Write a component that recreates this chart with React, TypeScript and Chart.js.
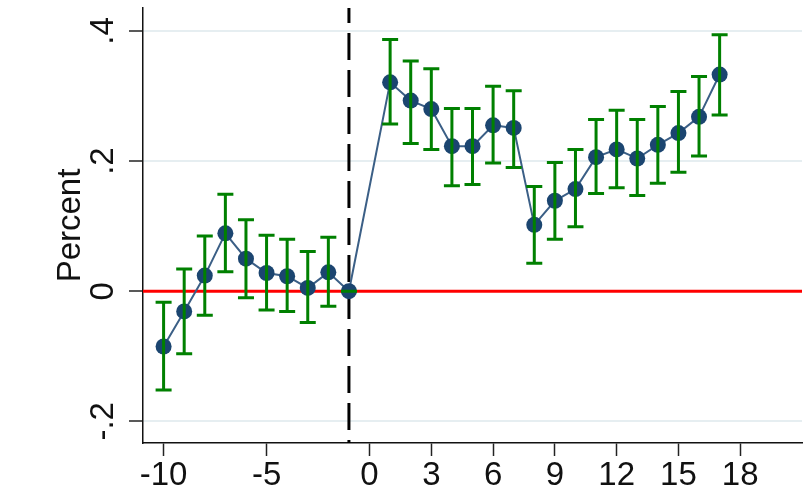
import { useEffect, useRef } from "react";
import { Chart, registerables } from "chart.js";

Chart.register(...registerables);

// Event-time periods (relative to the event, -1 is the reference period)
const periods = [-10, -9, -8, -7, -6, -5, -4, -3, -2, -1, 1, 2, 3, 4, 5, 6, 7, 8, 9, 10, 11, 12, 13, 14, 15, 16, 17];

// Point estimates
const estimates = [
  -0.085, -0.031, 0.024, 0.089, 0.05, 0.028, 0.023, 0.005, 0.029, 0,
  0.321, 0.293, 0.28, 0.223, 0.223, 0.255, 0.251, 0.102, 0.139, 0.157,
  0.206, 0.218, 0.204, 0.225, 0.243, 0.268, 0.333,
];

// Confidence interval bounds
const ciLow = [
  -0.152, -0.096, -0.037, 0.03, -0.01, -0.029, -0.031, -0.048, -0.023, 0,
  0.257, 0.227, 0.218, 0.162, 0.164, 0.197, 0.19, 0.043, 0.08, 0.099,
  0.15, 0.159, 0.147, 0.166, 0.183, 0.208, 0.271,
];
const ciHigh = [
  -0.017, 0.034, 0.085, 0.149, 0.11, 0.086, 0.08, 0.061, 0.083, 0,
  0.387, 0.354, 0.342, 0.281, 0.281, 0.315, 0.308, 0.161, 0.198, 0.218,
  0.264, 0.278, 0.264, 0.284, 0.307, 0.33, 0.394,
];

const xTickValues = [-10, -5, 0, 3, 6, 9, 12, 15, 18];
const yTickValues = [-0.2, 0, 0.2, 0.4];
const yTickLabels = ["-.2", "0", ".2", ".4"];
const eventPeriod = -1;
const yAxisTitle = "Percent";

const FONT = '"Liberation Sans", Arial, Helvetica, sans-serif';
const FONT_SIZE = 33;

const overlays = {
  id: "overlays",
  beforeDatasetsDraw(chart: any) {
    const { ctx, chartArea: a, scales } = chart;
    const x = scales.x;
    const y = scales.y;
    ctx.save();
    // zero reference line
    const y0 = y.getPixelForValue(0);
    ctx.strokeStyle = "#ff0000";
    ctx.lineWidth = 3;
    ctx.beginPath();
    ctx.moveTo(a.left, y0);
    ctx.lineTo(a.right, y0);
    ctx.stroke();
    // dashed event marker
    const xe = x.getPixelForValue(eventPeriod);
    ctx.strokeStyle = "#000000";
    ctx.lineWidth = 3;
    ctx.setLineDash([27, 10]);
    ctx.lineDashOffset = 12;
    ctx.beginPath();
    ctx.moveTo(xe, a.top);
    ctx.lineTo(xe, a.bottom);
    ctx.stroke();
    ctx.restore();
  },
  afterDatasetsDraw(chart: any) {
    const { ctx, scales } = chart;
    const x = scales.x;
    const y = scales.y;
    const half = 8;
    ctx.save();
    ctx.strokeStyle = "#008000";
    ctx.lineWidth = 3;
    ctx.lineCap = "butt";
    periods.forEach((p, i) => {
      const px = x.getPixelForValue(p);
      const lo = y.getPixelForValue(ciLow[i]);
      const hi = y.getPixelForValue(ciHigh[i]);
      ctx.beginPath();
      ctx.moveTo(px, lo);
      ctx.lineTo(px, hi);
      ctx.moveTo(px - half, lo);
      ctx.lineTo(px + half, lo);
      ctx.moveTo(px - half, hi);
      ctx.lineTo(px + half, hi);
      ctx.stroke();
    });
    ctx.restore();
  },
  afterDraw(chart: any) {
    const { ctx, chartArea: a, scales } = chart;
    const y = scales.y;
    ctx.save();
    ctx.fillStyle = "#111111";
    ctx.font = `${FONT_SIZE}px ${FONT}`;
    ctx.textAlign = "center";
    ctx.textBaseline = "alphabetic";
    yTickValues.forEach((v, i) => {
      const py = y.getPixelForValue(v);
      ctx.save();
      ctx.translate(113, py);
      ctx.rotate(-Math.PI / 2);
      ctx.fillText(yTickLabels[i], 0, 0);
      ctx.restore();
    });
    ctx.save();
    ctx.translate(80, (a.top + a.bottom) / 2);
    ctx.rotate(-Math.PI / 2);
    ctx.fillText(yAxisTitle, 0, 0);
    ctx.restore();
    ctx.restore();
  },
};

export default function App() {
  const canvasRef = useRef<HTMLCanvasElement | null>(null);

  useEffect(() => {
    const canvas = canvasRef.current;
    if (!canvas) return;
    const chart = new Chart(canvas, {
      type: "line",
      data: {
        datasets: [
          {
            data: periods.map((p, i) => ({ x: p, y: estimates[i] })),
            borderColor: "#3b5f86",
            borderWidth: 2,
            pointRadius: 8,
            pointBackgroundColor: "#1b4570",
            pointBorderColor: "#1b4570",
            pointBorderWidth: 0,
            tension: 0,
          },
        ],
      },
      options: {
        responsive: false,
        animation: false,
        devicePixelRatio: 1,
        layout: { padding: { top: 7, right: 8, left: 0, bottom: 0 } },
        plugins: { legend: { display: false }, tooltip: { enabled: false } },
        scales: {
          x: {
            type: "linear",
            min: -11,
            max: 21,
            afterBuildTicks: (scale: any) => {
              scale.ticks = xTickValues.map((v) => ({ value: v }));
            },
            afterFit: (scale: any) => {
              scale.height = 47;
            },
            grid: {
              drawOnChartArea: false,
              drawTicks: true,
              tickLength: 13,
              tickColor: "#222222",
              tickWidth: 1.5,
            },
            border: { display: true, color: "#111111", width: 1.5 },
            ticks: {
              autoSkip: false,
              maxRotation: 0,
              minRotation: 0,
              padding: 0,
              color: "#111111",
              font: { family: FONT, size: FONT_SIZE },
              callback: (v: any) => String(v),
            },
          },
          y: {
            type: "linear",
            min: -0.2333,
            max: 0.4353,
            afterBuildTicks: (scale: any) => {
              scale.ticks = yTickValues.map((v) => ({ value: v }));
            },
            afterFit: (scale: any) => {
              scale.width = 143;
            },
            grid: {
              drawOnChartArea: true,
              color: "#e6eef1",
              lineWidth: 2,
              drawTicks: true,
              tickLength: 14,
              tickColor: "#222222",
              tickWidth: 1.5,
            },
            border: { display: true, color: "#111111", width: 1.5 },
            ticks: { display: false },
          },
        },
      },
      plugins: [overlays],
    });
    return () => chart.destroy();
  }, []);

  return (
    <div style={{ position: "fixed", left: 0, top: 0, width: 810, height: 490, background: "#ffffff" }}>
      <canvas ref={canvasRef} width={810} height={490} style={{ display: "block" }} />
    </div>
  );
}
